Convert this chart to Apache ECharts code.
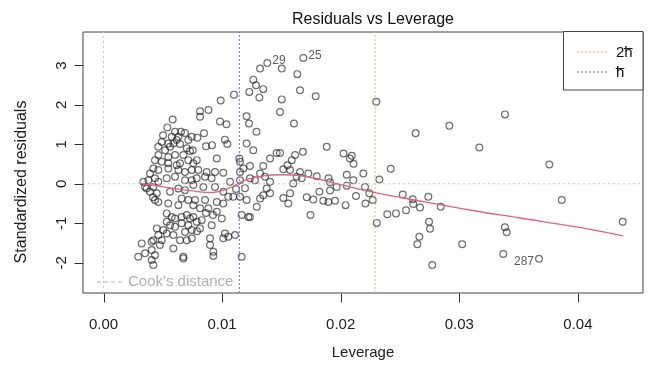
<!DOCTYPE html>
<html>
<head>
<meta charset="utf-8">
<script src="https://cdn.jsdelivr.net/npm/echarts@6/dist/echarts.min.js"></script>
<style>
  html, body { margin: 0; padding: 0; background: #fff; }
  #chart { width: 648px; height: 370px; }
</style>
</head>
<body>
<div id="chart"></div>
<script>
// Leverage (hat values) and standardized residuals of the fitted model
const leverage = [
  0.01320, 0.01263, 0.01286, 0.01347, 0.01229, 0.01314, 0.01100, 0.00988, 0.00885, 0.00814,
  0.00814, 0.00583, 0.00538, 0.00982, 0.01037, 0.01206, 0.01227, 0.01290, 0.00847, 0.00791,
  0.01503, 0.01634, 0.01657, 0.01789, 0.01503, 0.01488, 0.01606, 0.02300, 0.02632, 0.02916,
  0.03385, 0.03169, 0.03759, 0.01024, 0.01044, 0.00864, 0.00915, 0.01207, 0.01263, 0.00752,
  0.00955, 0.01145, 0.01151, 0.00786, 0.00757, 0.01235, 0.01460, 0.01488, 0.01404, 0.01347,
  0.01882, 0.01682, 0.02024, 0.02093, 0.02078, 0.02108, 0.01615, 0.01587, 0.01551, 0.01516,
  0.01657, 0.01727, 0.01798, 0.01629, 0.01671, 0.01573, 0.01897, 0.01910, 0.02051, 0.02191,
  0.02106, 0.01320, 0.01362, 0.01404, 0.01235, 0.01277, 0.01600, 0.01966, 0.01910, 0.02051,
  0.02205, 0.01376, 0.01404, 0.01820, 0.01320, 0.01347, 0.01292, 0.01516, 0.01573, 0.01558,
  0.01713, 0.01769, 0.01853, 0.01896, 0.01952, 0.02129, 0.02041, 0.02209, 0.01745, 0.01235,
  0.02422, 0.02326, 0.02241, 0.02270, 0.02304, 0.02393, 0.02466, 0.02523, 0.02607, 0.02612,
  0.02551, 0.02669, 0.02739, 0.02843, 0.02745, 0.02753, 0.02663, 0.02646, 0.02772, 0.03025,
  0.03864, 0.03385, 0.03400, 0.03371, 0.04378, 0.00744, 0.00799, 0.00870, 0.00940, 0.01010,
  0.01151, 0.01179, 0.00786, 0.00856, 0.00912, 0.01067, 0.01151, 0.00757, 0.00842, 0.00940,
  0.01010, 0.01052, 0.01094, 0.01151, 0.01207, 0.00856, 0.00955, 0.01010, 0.00757, 0.00814,
  0.00884, 0.00955, 0.01165, 0.01221, 0.00997, 0.00757, 0.00786, 0.00828, 0.00814, 0.00912,
  0.00744, 0.01024, 0.01052, 0.01010, 0.01109, 0.00898, 0.00898, 0.00926, 0.00926, 0.01165,
  0.00772, 0.00864, 0.00923, 0.00788, 0.00364, 0.00449, 0.00434, 0.00462, 0.00561, 0.00631,
  0.00687, 0.00659, 0.00546, 0.00631, 0.00715, 0.00533, 0.00575, 0.00603, 0.00659, 0.00702,
  0.00729, 0.00533, 0.00561, 0.00603, 0.00659, 0.00715, 0.00449, 0.00504, 0.00533, 0.00589,
  0.00687, 0.00744, 0.00462, 0.00420, 0.00645, 0.00702, 0.00322, 0.00406, 0.00491, 0.00589,
  0.00406, 0.00350, 0.00434, 0.00293, 0.00673, 0.00673, 0.00406, 0.00420, 0.00476, 0.00603,
  0.00653, 0.00687, 0.00575, 0.00617, 0.00589, 0.00546, 0.00491, 0.00462, 0.00715, 0.00702,
  0.00744, 0.00519, 0.00462, 0.00434, 0.00546, 0.00603, 0.00673, 0.00715, 0.00491, 0.00546,
  0.00617, 0.00420, 0.00392, 0.00462, 0.00546, 0.00631, 0.00687, 0.00378, 0.00434, 0.00462,
  0.00533, 0.00603, 0.00687, 0.00744, 0.00350, 0.00420, 0.00336, 0.00392, 0.00417, 0.00631,
  0.00645, 0.00729, 0.00645, 0.00561, 0.00502, 0.01117, 0.01193
];
const stdResid = [
  2.92, 2.64, 2.50, 2.40, 2.33, 2.19, 2.26, 2.11, 1.87, 1.84,
  1.70, 1.63, 1.43, 1.58, 1.51, 1.71, 1.53, 1.32, 1.28, 1.17,
  2.92, 2.78, 2.37, 2.22, 2.14, 1.82, 1.53, 2.08, 1.28, 1.47,
  1.76, 0.92, 0.49, 1.12, 1.01, 0.95, 0.98, 1.02, 0.85, 0.85,
  0.64, 0.64, 0.56, 0.60, 0.52, 0.45, 0.78, 0.78, 0.64, 0.45,
  0.94, 0.81, 0.77, 0.71, 0.64, 0.51, 0.73, 0.60, 0.47, 0.37,
  0.30, 0.26, 0.19, 0.18, 0.14, 0.35, 0.14, 0.04, 0.23, 0.26,
  0.09, 0.26, 0.18, 0.05, 0.14, 0.09, 0.01, -0.08, -0.17, -0.05,
  -0.08, -0.12, -0.24, -0.20, -0.37, -0.29, -0.58, -0.36, -0.24, -0.50,
  -0.34, -0.40, -0.43, -0.46, -0.43, -0.31, -0.54, -0.50, -0.79, -0.84,
  0.38, 0.11, -0.24, -0.41, -0.99, -0.77, -0.75, -0.27, -0.39, -0.51,
  -0.67, -0.60, -0.33, -0.58, -0.96, -1.14, -1.34, -1.53, -2.06, -1.53,
  -0.41, -1.10, -1.23, -1.78, -0.96, 0.35, 0.35, 0.30, 0.30, 0.28,
  0.30, 0.39, 0.14, 0.18, 0.14, 0.05, 0.09, -0.03, -0.08, -0.08,
  -0.20, -0.33, -0.33, -0.33, -0.41, -0.41, -0.46, -0.50, -0.54, -0.62,
  -0.62, -0.71, -0.79, -0.84, -0.88, -0.84, -0.96, -0.92, -1.13, -1.05,
  -1.38, -1.26, -1.34, -1.38, -1.30, -1.38, -1.55, -1.72, -1.83, -1.85,
  -0.41, -0.74, -0.79, -1.20, -0.12, -0.24, -0.41, -0.46, -0.20, -0.12,
  -0.16, -0.37, -0.50, -0.54, -0.41, -0.75, -0.84, -0.88, -0.84, -0.79,
  -0.88, -0.96, -1.05, -1.09, -1.00, -1.05, -1.13, -1.17, -1.26, -1.30,
  -1.22, -1.17, -1.30, -1.43, -1.43, -1.43, -1.51, -1.47, -1.43, -1.64,
  -1.68, -1.76, -1.81, -1.85, -1.85, -1.89, -1.93, -2.06, -1.55, 1.32,
  1.32, 1.29, 1.19, 1.11, 1.02, 1.02, 1.06, 0.94, 1.11, 0.90,
  1.19, 0.85, 0.73, 0.60, 0.68, 0.73, 0.73, 0.60, 0.56, 0.52,
  0.47, 0.39, 0.26, 0.35, 0.39, 0.35, 0.30, 0.09, 0.14, 0.05,
  0.14, 0.18, 0.09, 0.09, -0.08, -0.08, 0.05, -0.20, -0.34, 1.19,
  1.01, 0.83, 0.52, 0.94, 1.23, -0.13, -0.11
];

// Observations flagged by id
const flaggedLeverage = [0.01381, 0.01685, 0.03672];
const flaggedResid = [3.06, 3.19, -1.90];
const flaggedIds = ['29', '25', '287'];

// Smoothed trend of residuals against leverage
const smoothLeverage = [0.0031, 0.0045, 0.0060, 0.0075, 0.0090, 0.0105, 0.0120, 0.0135, 0.0150,
  0.0165, 0.0180, 0.0200, 0.0230, 0.0270, 0.0310, 0.0350, 0.0400, 0.0438];
const smoothResid = [0.01, -0.05, -0.12, -0.18, -0.22, -0.12, 0.10, 0.20, 0.23,
  0.21, 0.13, -0.02, -0.23, -0.45, -0.67, -0.86, -1.10, -1.32];

// Mean leverage and twice the mean leverage
const hBar = 0.01145;
const twoHBar = 0.0229;

const xTicks = [0, 0.01, 0.02, 0.03, 0.04];
const yTicks = [-2, -1, 0, 1, 2, 3];
const xRange = [-0.00173, 0.04549];
const yRange = [-2.767, 3.848];

const FONT = '"Liberation Sans", Arimo, Arial, sans-serif';
const POINT_STYLE = { color: 'rgba(0,0,0,0)', borderColor: 'rgba(25,25,25,0.78)', borderWidth: 1.2 };
const GREY_REF = '#c4c4c4';
const BLUE_REF = '#6a6af2';
const ORANGE_REF = '#f0b060';
const AXIS_INK = '#444';
const TICK_INK = '#333';
const TICK_LEN = 9;

const chart = echarts.init(document.getElementById('chart'), null, { renderer: 'canvas' });

const pointData = leverage.map((x, i) => [x, stdResid[i]]);
const xMid = (xRange[0] + xRange[1]) / 2;
const flaggedData = flaggedLeverage.map((x, i) => ({
  value: [x, flaggedResid[i]],
  label: {
    show: true,
    formatter: flaggedIds[i],
    position: x > xMid ? 'left' : 'right',
    distance: 1,
    offset: x > xMid ? [0, 3] : [0, -2],
    fontSize: 12,
    fontFamily: FONT,
    color: '#333'
  }
}));
const smoothData = smoothLeverage.map((x, i) => [x, smoothResid[i]]);

// a full-height or full-width dotted reference line as its own series
function refLine(points, color, dash) {
  return {
    type: 'line',
    data: points,
    symbol: 'none',
    silent: true,
    lineStyle: { color: color, width: 1, type: dash }
  };
}

// outward tick marks on the lower and left frame edges, placed through the axis scales
function tickSeries(values, horizontal) {
  return {
    type: 'custom',
    silent: true,
    clip: false,
    z: 5,
    data: values.map(v => horizontal ? [v, yRange[0]] : [xRange[0], v]),
    renderItem: (params, api) => {
      const p = api.coord([api.value(0), api.value(1)]);
      const x = Math.round(p[0]) + 0.5;
      const y = Math.round(p[1]) + 0.5;
      const shape = horizontal
        ? { x1: x, y1: y, x2: x, y2: y + TICK_LEN }
        : { x1: x, y1: y, x2: x - TICK_LEN, y2: y };
      return { type: 'line', shape: shape, style: { stroke: TICK_INK, lineWidth: 1 } };
    }
  };
}

chart.setOption({
  animation: false,
  backgroundColor: '#fff',
  title: {
    text: 'Residuals vs Leverage',
    left: 368,
    top: 7,
    textAlign: 'center',
    textStyle: { fontFamily: FONT, fontSize: 16, fontWeight: 'normal', color: '#111' }
  },
  grid: {
    left: 83, right: 5, top: 32, bottom: 77,
    show: true, borderColor: AXIS_INK, borderWidth: 1, backgroundColor: 'transparent'
  },
  xAxis: {
    type: 'value',
    position: 'bottom',
    min: xRange[0], max: xRange[1],
    axisLine: { show: false, onZero: false },
    splitLine: { show: false },
    axisTick: { show: false },
    axisLabel: {
      customValues: xTicks, formatter: v => v.toFixed(2), margin: 24,
      fontSize: 15, fontFamily: FONT, color: '#222'
    },
    name: 'Leverage', nameLocation: 'middle', nameGap: 52,
    nameTextStyle: { fontSize: 15, fontFamily: FONT, color: '#222' }
  },
  yAxis: {
    type: 'value',
    position: 'left',
    min: yRange[0], max: yRange[1],
    axisLine: { show: false, onZero: false },
    splitLine: { show: false },
    axisTick: { show: false },
    axisLabel: {
      customValues: yTicks, formatter: v => String(v), rotate: 90, margin: 14,
      fontSize: 15, fontFamily: FONT, color: '#222'
    }
  },
  series: [
    refLine([[0, yRange[0]], [0, yRange[1]]], GREY_REF, [2, 3]),
    refLine([[xRange[0], 0], [xRange[1], 0]], GREY_REF, [2, 3]),
    refLine([[hBar, yRange[0]], [hBar, yRange[1]]], BLUE_REF, [2, 2]),
    refLine([[twoHBar, yRange[0]], [twoHBar, yRange[1]]], ORANGE_REF, [2, 2]),
    tickSeries(xTicks, true),
    tickSeries(yTicks, false),
    {
      type: 'line',
      data: smoothData,
      smooth: 0.4,
      symbol: 'none',
      lineStyle: { color: '#e0647a', width: 1.3 },
      silent: true
    },
    {
      type: 'scatter',
      data: pointData,
      symbol: 'circle',
      symbolSize: 6.8,
      itemStyle: POINT_STYLE,
      silent: true
    },
    {
      type: 'scatter',
      data: flaggedData,
      symbol: 'circle',
      symbolSize: 6.8,
      itemStyle: POINT_STYLE,
      silent: true
    }
  ],
  graphic: [
    // vertical axis title
    {
      type: 'text', silent: true, x: 22, y: 182, rotation: Math.PI / 2,
      style: {
        text: 'Standardized residuals', fill: '#222', font: '16px ' + FONT,
        textAlign: 'center', textVerticalAlign: 'middle'
      }
    },
    // Cook's distance key, lower left
    {
      type: 'line', silent: true,
      shape: { x1: 97, y1: 282, x2: 125, y2: 282 },
      style: { stroke: '#b0b0b0', lineWidth: 1, lineDash: [4, 3] }
    },
    {
      type: 'text', silent: true, x: 128, y: 282,
      style: { text: "Cook's distance", fill: '#b0b0b0', font: '15px ' + FONT, textVerticalAlign: 'middle' }
    },
    // Leverage reference key, upper right
    {
      type: 'rect', silent: true,
      shape: { x: 563.5, y: 31.5, width: 79.5, height: 58.5 },
      style: { fill: '#fff', stroke: AXIS_INK, lineWidth: 1 }
    },
    {
      type: 'line', silent: true,
      shape: { x1: 577, y1: 52, x2: 607, y2: 52 },
      style: { stroke: ORANGE_REF, lineWidth: 1, lineDash: [2, 2] }
    },
    {
      type: 'line', silent: true,
      shape: { x1: 577, y1: 72, x2: 607, y2: 72 },
      style: { stroke: BLUE_REF, lineWidth: 1, lineDash: [2, 2] }
    },
    {
      type: 'text', silent: true, x: 616, y: 53,
      style: { text: '2h\u0305', fill: '#111', font: '15px ' + FONT, textVerticalAlign: 'middle' }
    },
    {
      type: 'text', silent: true, x: 616, y: 73,
      style: { text: 'h\u0305', fill: '#111', font: '15px ' + FONT, textVerticalAlign: 'middle' }
    }
  ]
});
</script>
</body>
</html>
